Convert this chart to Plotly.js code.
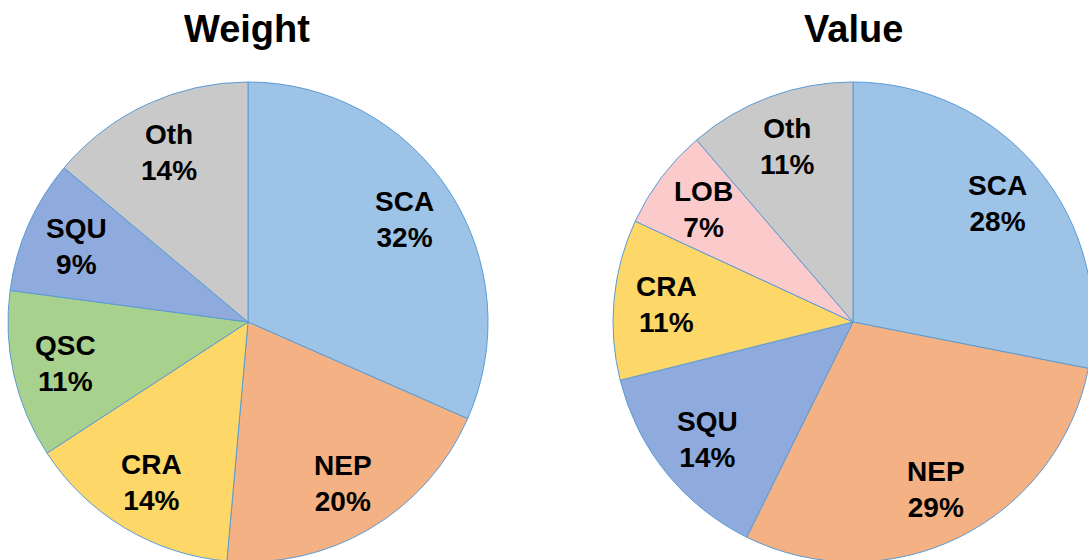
<!DOCTYPE html>
<html>
<head>
<meta charset="utf-8">
<script src="https://cdn.plot.ly/plotly-3.0.1.min.js"></script>
<style>
html, body { margin: 0; padding: 0; overflow: hidden; background: #fff; width: 1088px; height: 560px; }
#chart { width: 1100px; height: 570px; }
</style>
</head>
<body>
<div id="chart"></div>
<script>
// Data
const weightLabels = ['SCA', 'NEP', 'CRA', 'QSC', 'SQU', 'Oth'];
const weightValues = [31.6, 19.8, 14.4, 11.3, 9.0, 13.9];
const valueLabels = ['SCA', 'NEP', 'SQU', 'CRA', 'LOB', 'Oth'];
const valueValues = [28.1, 29.2, 13.8, 10.8, 6.8, 11.3];
const chartTitles = ['Weight', 'Value'];

const colorMap = {
  SCA: '#9DC3E6', NEP: '#F4B183', CRA: '#FDD767', QSC: '#A9D18E',
  SQU: '#8FAADC', Oth: '#C9C9C9', LOB: '#FBCACA'
};

const W = 1100, H = 570;
const fontFam = '"Liberation Sans", Arial, sans-serif';
const LABEL_R = 0.78; // label distance from centre, as a fraction of the radius

function pieTrace(labels, values, x0, x1) {
  return {
    type: 'pie',
    labels: labels,
    values: values,
    sort: false,
    direction: 'clockwise',
    rotation: 0,
    marker: { colors: labels.map(l => colorMap[l]), line: { color: '#5B9BD5', width: 1 } },
    textinfo: 'none',
    hoverinfo: 'none',
    showlegend: false,
    domain: { x: [x0 / W, x1 / W], y: [(H - 562) / H, (H - 82) / H] }
  };
}

// label annotations placed at each slice's mid-angle, derived from the data
function sliceLabels(labels, values, x0, x1) {
  const total = values.reduce((a, b) => a + b, 0);
  const cx = (x0 + x1) / 2, r = (x1 - x0) / 2;
  const cyTop = (82 + 562) / 2; // pixel centre from the top
  let cum = 0;
  return labels.map((lab, i) => {
    const frac = values[i] / total;
    const mid = (cum + frac / 2) * 2 * Math.PI;
    cum += frac;
    const px = cx + LABEL_R * r * Math.sin(mid);
    const py = cyTop - LABEL_R * r * Math.cos(mid);
    return {
      text: '<b>' + lab + '<br>' + Math.round(frac * 100) + '%</b>',
      x: px / W, y: (H - py) / H, xref: 'paper', yref: 'paper',
      xanchor: 'center', yanchor: 'middle', showarrow: false, align: 'center',
      font: { family: fontFam, size: 28, color: '#000', weight: 'bold' }
    };
  });
}

const data = [
  pieTrace(weightLabels, weightValues, 8, 488),
  pieTrace(valueLabels, valueValues, 613, 1093)
];

const titleAnn = (t, xpx) => ({
  text: '<b>' + t + '</b>', x: xpx / W, y: (H - 29) / H, xref: 'paper', yref: 'paper',
  xanchor: 'center', yanchor: 'middle', showarrow: false,
  font: { family: fontFam, size: 38, color: '#000', weight: 'bold' }
});

const layout = {
  width: W, height: H,
  margin: { l: 0, r: 0, t: 0, b: 0 },
  paper_bgcolor: '#fff',
  showlegend: false,
  annotations: [
    titleAnn(chartTitles[0], 247),
    titleAnn(chartTitles[1], 853),
    ...sliceLabels(weightLabels, weightValues, 8, 488),
    ...sliceLabels(valueLabels, valueValues, 613, 1093)
  ]
};

Plotly.newPlot('chart', data, layout, { staticPlot: true, displayModeBar: false });
</script>
</body>
</html>
